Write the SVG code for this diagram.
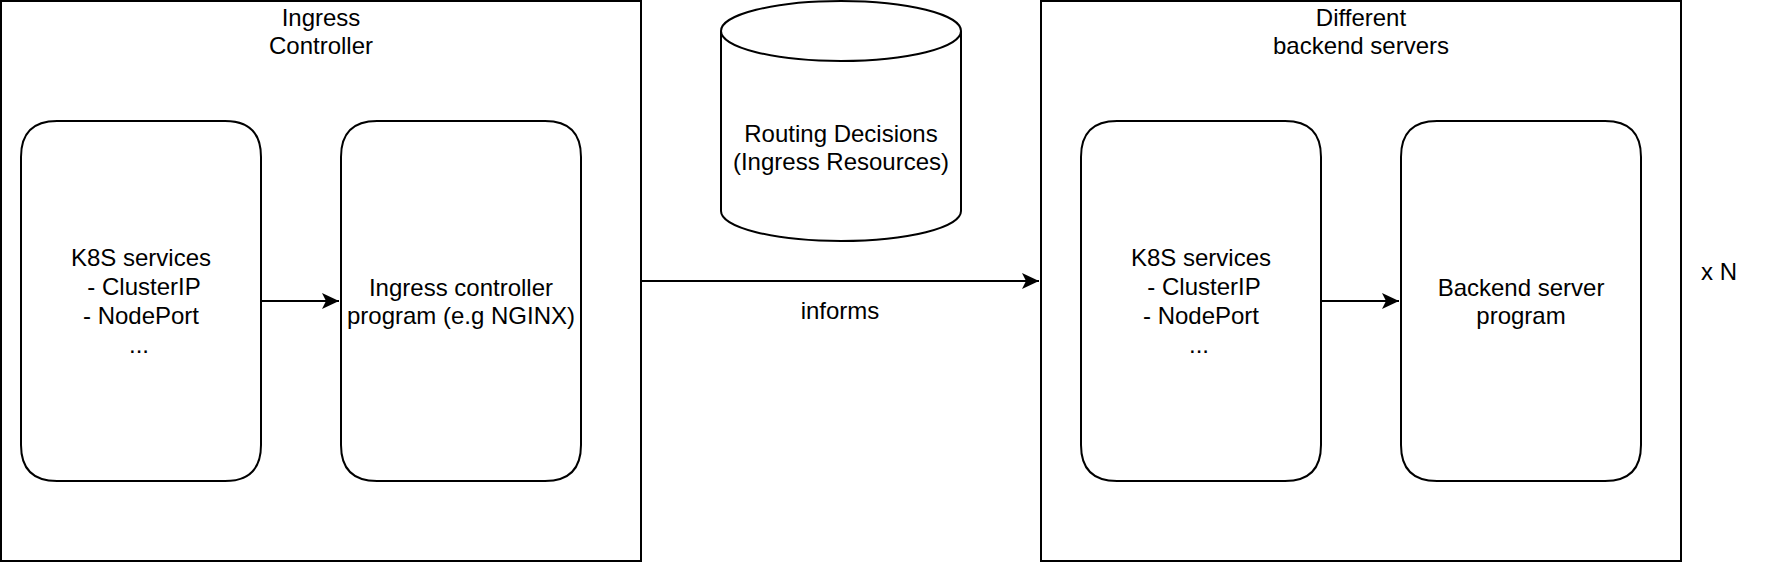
<svg xmlns="http://www.w3.org/2000/svg" width="1782" height="562" viewBox="0 0 1782 562">
<style>
.shape{fill:#ffffff;stroke:#000000;stroke-width:2}
.edge{fill:none;stroke:#000000;stroke-width:2}
text{font-family:"Liberation Sans",Arial,Helvetica,sans-serif;font-size:24px;fill:#000000;text-anchor:middle}
</style>
<defs>
<marker id="arrow" markerUnits="userSpaceOnUse" markerWidth="22" markerHeight="22" viewBox="-19 -11 22 22" refX="0" refY="0" orient="auto">
<path d="M0,0 L-17,-8 L-13,0 L-17,8 Z" fill="#000000" stroke="none"/>
</marker>
</defs>
<rect width="1782" height="562" fill="#ffffff"/>
<g id="ingress-controller">
<rect class="shape" x="1" y="1" width="640" height="560"/>
<text x="321" y="25.5">Ingress</text>
<text x="321" y="54.3">Controller</text>
</g>
<g id="backend-servers">
<rect class="shape" x="1041" y="1" width="640" height="560"/>
<text x="1361" y="25.5">Different</text>
<text x="1361" y="54.3">backend servers</text>
</g>
<g id="k8s-services-left">
<path class="shape" d="M57,121 L225,121 Q261,121 261,157 L261,445 Q261,481 225,481 L57,481 Q21,481 21,445 L21,157 Q21,121 57,121 Z"/>
<text x="141" y="266.4">K8S services</text>
<text x="144" y="295.2">- ClusterIP</text>
<text x="141" y="324">- NodePort</text>
<text x="139" y="352.8">...</text>
</g>
<g id="ingress-program">
<path class="shape" d="M377,121 L545,121 Q581,121 581,157 L581,445 Q581,481 545,481 L377,481 Q341,481 341,445 L341,157 Q341,121 377,121 Z"/>
<text x="461" y="295.5">Ingress controller</text>
<text x="461" y="324.3">program (e.g NGINX)</text>
</g>
<g id="routing-decisions">
<path class="shape" d="M721,31 A120,30 0 0 1 961,31 L961,211 A120,30 0 0 1 721,211 Z"/>
<path class="edge" d="M721,31 A120,30 0 0 0 961,31"/>
<text x="841" y="141.5">Routing Decisions</text>
<text x="841" y="170">(Ingress Resources)</text>
</g>
<g id="k8s-services-right">
<path class="shape" d="M1117,121 L1285,121 Q1321,121 1321,157 L1321,445 Q1321,481 1285,481 L1117,481 Q1081,481 1081,445 L1081,157 Q1081,121 1117,121 Z"/>
<text x="1201" y="266.4">K8S services</text>
<text x="1204" y="295.2">- ClusterIP</text>
<text x="1201" y="324">- NodePort</text>
<text x="1199" y="352.8">...</text>
</g>
<g id="backend-program">
<path class="shape" d="M1437,121 L1605,121 Q1641,121 1641,157 L1641,445 Q1641,481 1605,481 L1437,481 Q1401,481 1401,445 L1401,157 Q1401,121 1437,121 Z"/>
<text x="1521" y="295.5">Backend server</text>
<text x="1521" y="324.3">program</text>
</g>
<g id="multiplier">
<text x="1719" y="280">x N</text>
</g>
<g id="connectors">
<line class="edge" x1="261" y1="301" x2="339" y2="301" marker-end="url(#arrow)"/>
<line class="edge" x1="641" y1="281" x2="1039" y2="281" marker-end="url(#arrow)"/>
<text x="840" y="319">informs</text>
<line class="edge" x1="1321" y1="301" x2="1399" y2="301" marker-end="url(#arrow)"/>
</g>
</svg>
